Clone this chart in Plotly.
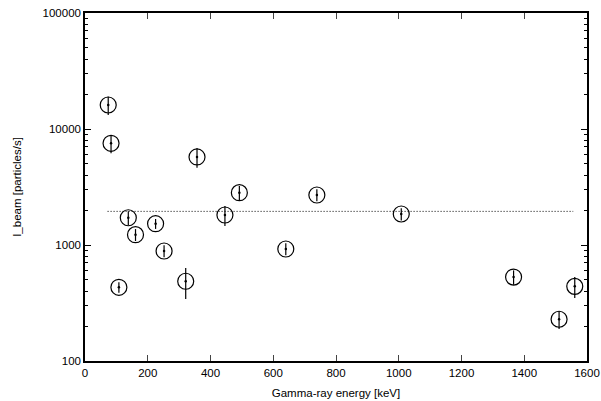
import plotly.graph_objects as go

energy_kev = [74, 83, 108, 138, 161, 225, 252, 321, 357, 446, 492, 640, 739, 1008, 1366, 1511, 1561]
i_beam = [16100, 7530, 432, 1718, 1227, 1526, 888, 487, 5740, 1814, 2825, 924, 2698, 1850, 529, 229, 440]
i_beam_err = [2900, 1350, 45, 240, 145, 150, 105, 145, 1100, 355, 400, 110, 320, 220, 75, 40, 90]

avg_x = [72, 1556]
avg_value = 1950

y_tickvals = [100, 1000, 10000, 100000]
y_ticktext = ["100", "1000", "10000", "100000"]
y_minor_vals = [m * d for d in (100, 1000, 10000) for m in range(2, 10)]
x_tickvals = [0, 200, 400, 600, 800, 1000, 1200, 1400, 1600]

fig = go.Figure()
fig.add_trace(go.Scatter(
    x=avg_x, y=[avg_value, avg_value], mode="lines",
    line=dict(color="black", width=1, dash="1px,2px"),
    showlegend=False, hoverinfo="skip"))
fig.add_trace(go.Scatter(
    x=energy_kev, y=i_beam, mode="markers",
    marker=dict(symbol="circle-open", size=16, color="black", line=dict(width=1.2, color="black")),
    error_y=dict(type="data", array=i_beam_err, visible=True, color="black", thickness=1.2, width=0),
    showlegend=False))
fig.add_trace(go.Scatter(
    x=energy_kev, y=i_beam, mode="markers",
    marker=dict(symbol="circle", size=2.5, color="black"),
    showlegend=False, hoverinfo="skip"))

axis_font = dict(family="Liberation Sans, Arial, sans-serif", size=11.5, color="black")
fig.update_layout(
    width=601, height=401,
    margin=dict(l=85, r=14, t=13, b=40),
    paper_bgcolor="white", plot_bgcolor="white",
    font=axis_font,
    xaxis=dict(
        range=[0, 1600], tickvals=x_tickvals, ticks="inside", ticklen=6,
        showline=True, linecolor="black", linewidth=1.5, mirror="ticks",
        showgrid=False, zeroline=False, tickfont=axis_font, automargin=False,
        title=dict(text="Gamma-ray energy [keV]", font=axis_font, standoff=11)),
    yaxis=dict(
        type="log", range=[2, 5], tickvals=y_tickvals, ticktext=y_ticktext,
        ticks="inside", ticklen=6, tickcolor="black",
        minor=dict(tickmode="array", tickvals=y_minor_vals, ticks="inside", ticklen=3,
                   tickcolor="black", showgrid=False),
        showline=True, linecolor="black", linewidth=1.5, mirror="ticks",
        showgrid=False, zeroline=False, tickfont=axis_font, automargin=False,
        title=dict(text="I_beam [particles/s]", font=axis_font, standoff=19)),
)
fig.write_html("out.html", post_script="document.body.style.margin='0';",
               config={"displayModeBar": False})
